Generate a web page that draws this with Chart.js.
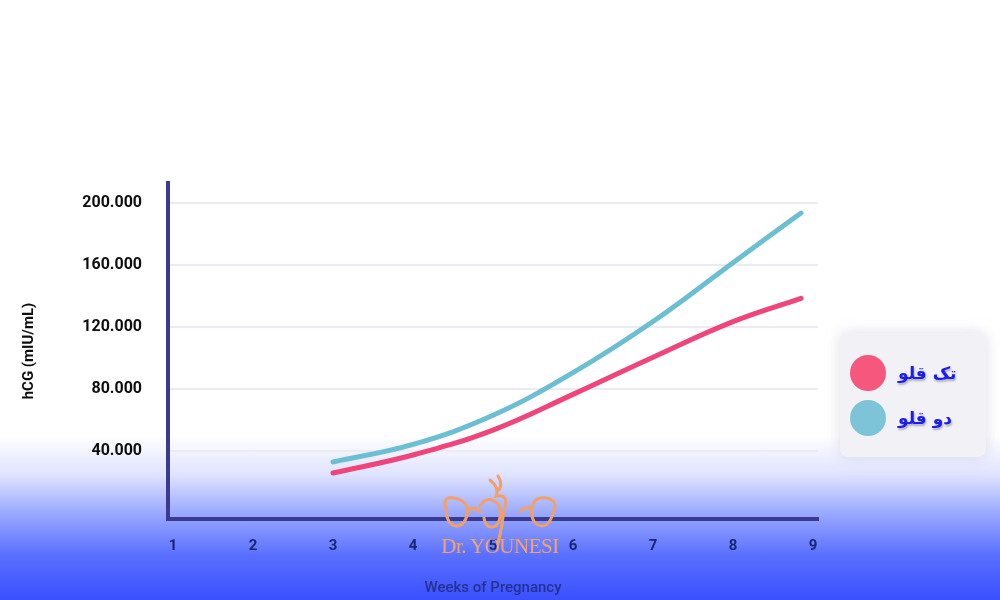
<!DOCTYPE html>
<html>
<head>
<meta charset="utf-8">
<script src="https://cdn.jsdelivr.net/npm/chart.js@4.4.1/dist/chart.umd.min.js"></script>
<style>
  html, body { margin: 0; padding: 0; }
  body {
    width: 1000px; height: 600px; overflow: hidden; position: relative;
    background: linear-gradient(to bottom, #ffffff 0px, #ffffff 435px, #dfe3ff 475px, #97a6ff 515px, #5a70ff 555px, #3a4fff 600px);
    font-family: Roboto, "DejaVu Sans", sans-serif;
  }
  #wrap { position: absolute; left: 0; top: 0; width: 1000px; height: 600px; }
  #legend {
    position: absolute; left: 840px; top: 333px; width: 146px; height: 124px;
    background: #f1f1f6; border-radius: 8px;
    box-shadow: 0 0 14px rgba(200, 200, 220, 0.6);
  }
  .item { position: absolute; left: 10px; height: 36px; display: flex; align-items: center; }
  .dot { width: 36px; height: 36px; border-radius: 50%; }
  .txt {
    margin-left: 12px; font-family: "DejaVu Sans", sans-serif; font-weight: bold; font-size: 17px;
    color: #1b1bf2; direction: rtl; text-shadow: 1px 2px 2px rgba(90, 90, 110, 0.45);
  }
  #mark { position: absolute; left: 440px; top: 474px; width: 120px; height: 90px; pointer-events: none; }
  #mark .name {
    position: absolute; left: 0; top: 60px; width: 120px; text-align: center;
    font-family: "Liberation Serif", "DejaVu Serif", serif; font-size: 21px; color: #f3a46c; letter-spacing: -0.5px;
  }
</style>
</head>
<body>
<div id="wrap"><canvas id="chart"></canvas></div>
<div id="legend"></div>
<div id="mark">
  <svg width="120" height="72" viewBox="0 0 120 72">
    <g fill="none" stroke="#f2a066" stroke-width="3" stroke-linecap="round">
      <path d="M6 34 Q2 22 14 24 Q26 26 28 36 Q26 52 16 52 Q6 50 6 34 Z"/>
      <path d="M92 34 Q94 22 106 24 Q118 26 114 36 Q110 52 102 52 Q90 50 92 34 Z"/>
      <path d="M28 36 Q36 32 40 38"/>
      <path d="M92 34 Q84 32 80 38"/>
      <path d="M40 32 Q48 20 58 30 Q64 42 56 52 Q46 56 44 44"/>
      <path d="M50 6 Q60 14 56 22 Q70 20 64 36 Q62 54 58 70"/>
      <path d="M58 2 Q63 10 59 16"/>
    </g>
  </svg>
  <div class="name">Dr. YOUNESI</div>
</div>
<script>
// x values (weeks) for both curves
const weeks = [3, 4, 5, 6, 7, 8, 8.85];
// single pregnancy (red) and twins (blue), mIU/mL
const singleValues = [25800, 37400, 53500, 76500, 100500, 123500, 138500];
const twinValues = [32900, 44200, 63000, 90500, 123500, 161500, 193500];
const seriesLabels = ['تک قلو', 'دو قلو'];
const seriesColors = ['#f0457a', '#6cbfd3'];
const legendColors = ['#f5577d', '#7ec4d8'];
const xTicks = [1, 2, 3, 4, 5, 6, 7, 8, 9];
const yTicks = [40000, 80000, 120000, 160000, 200000];

const toPoints = vals => vals.map((v, i) => ({ x: weeks[i], y: v }));

const ctx = document.getElementById('chart').getContext('2d');
new Chart(ctx, {
  type: 'line',
  data: {
    datasets: [
      { label: seriesLabels[0], data: toPoints(singleValues), borderColor: seriesColors[0] },
      { label: seriesLabels[1], data: toPoints(twinValues), borderColor: seriesColors[1] }
    ]
  },
  options: {
    responsive: true,
    maintainAspectRatio: false,
    animation: false,
    layout: { padding: { top: 183, right: 182, left: 16, bottom: 0 } },
    elements: {
      line: { borderWidth: 5, tension: 0.4, borderCapStyle: 'round', fill: false },
      point: { radius: 0 }
    },
    plugins: { legend: { display: false }, tooltip: { enabled: false } },
    scales: {
      x: {
        type: 'linear',
        min: 0.9375,
        max: 9.0625,
        afterBuildTicks: s => { s.ticks = xTicks.map(v => ({ value: v })); },
        afterFit: s => { s.height = 81; },
        grid: { display: false, drawTicks: false },
        border: { display: true, color: '#3a3a90', width: 4 },
        ticks: { padding: 18, color: '#1a2670', font: { family: 'Roboto', size: 15, weight: 'bold' } },
        title: {
          display: true, text: 'Weeks of Pregnancy', color: '#25318f',
          font: { family: 'Roboto', size: 15, weight: '500' }, padding: { top: 4, bottom: 3 }
        }
      },
      y: {
        min: -3900,
        max: 212900,
        afterBuildTicks: s => { s.ticks = yTicks.map(v => ({ value: v })); },
        afterFit: s => { s.width = 152; },
        grid: { color: '#ecebf3', lineWidth: 2, drawTicks: false },
        border: { display: true, color: '#3a3a90', width: 4 },
        ticks: {
          padding: 26, color: '#0d0d0d',
          font: { family: 'Roboto', size: 16, weight: 'bold' },
          callback: v => (v / 1000) + '.000'
        },
        title: {
          display: true, text: 'hCG (mIU/mL)', color: '#0d0d0d',
          font: { family: 'Roboto', size: 15, weight: 'bold' }, padding: { top: 4, bottom: 4 }
        }
      }
    }
  }
});

// legend built from the same series arrays
const legend = document.getElementById('legend');
seriesLabels.forEach((lab, i) => {
  const item = document.createElement('div');
  item.className = 'item';
  item.style.top = (22 + i * 45) + 'px';
  item.innerHTML = '<div class="dot" style="background:' + legendColors[i] + '"></div><div class="txt">' + lab + '</div>';
  legend.appendChild(item);
});
</script>
</body>
</html>
